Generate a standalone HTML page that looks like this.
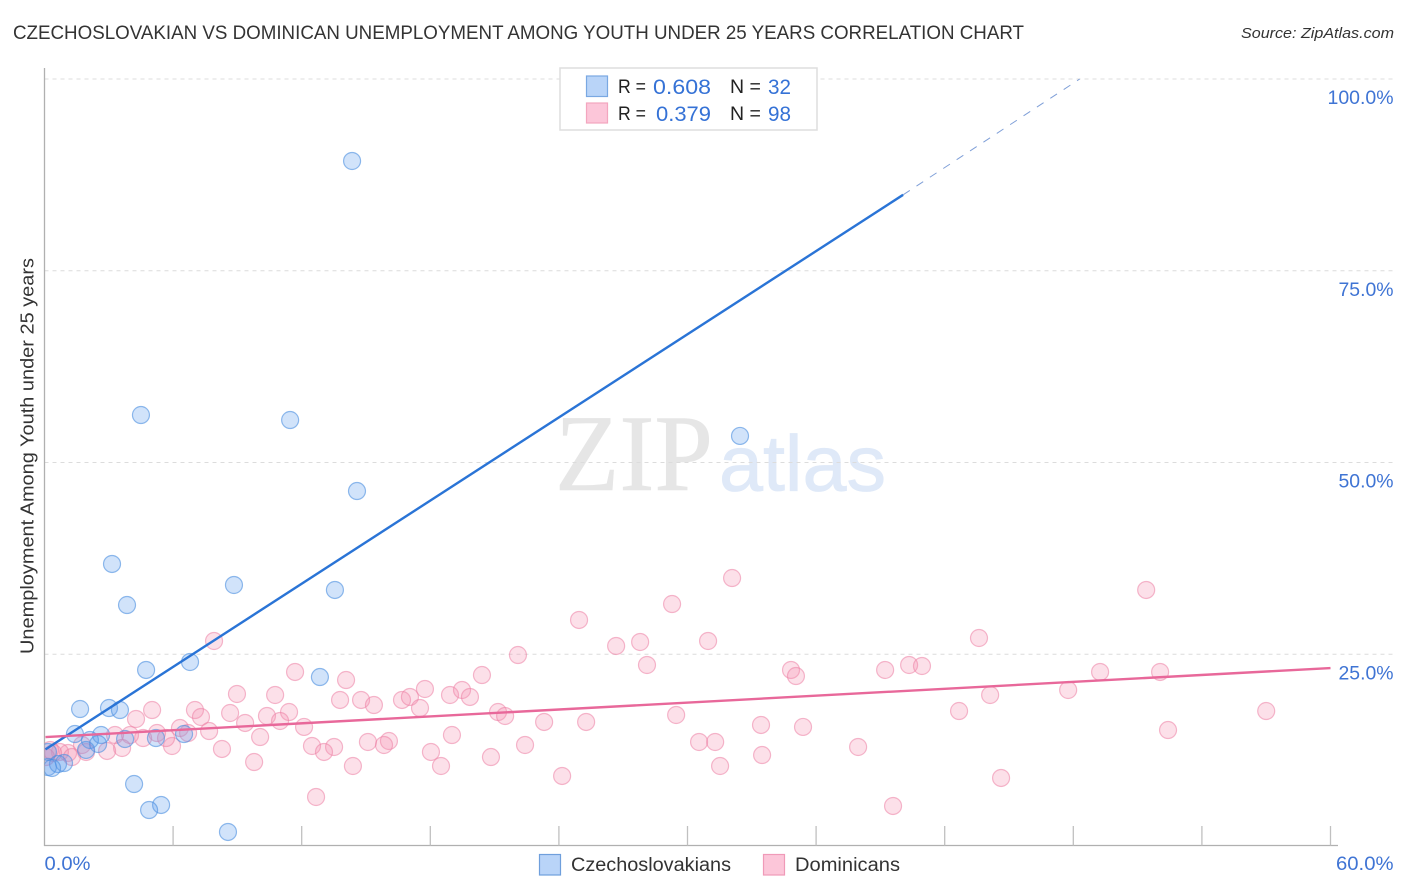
<!DOCTYPE html>
<html lang="en">
<head>
<meta charset="utf-8">
<title>Czechoslovakian vs Dominican Unemployment Correlation Chart</title>
<style>
html,body{margin:0;padding:0;background:#fff;}
svg{display:block;font-family:"Liberation Sans",sans-serif;}
</style>
</head>
<body>
<svg id="chart" width="1406" height="892" viewBox="0 0 1406 892" xmlns="http://www.w3.org/2000/svg">
  <defs>
    <clipPath id="plot-clip"><rect x="44.5" y="60" width="1350" height="785.5"/></clipPath>
  </defs>
  <rect x="0" y="0" width="1406" height="892" fill="#fff"/>
  <text x="13" y="39" font-size="19" fill="#333" textLength="1011" lengthAdjust="spacingAndGlyphs">CZECHOSLOVAKIAN VS DOMINICAN UNEMPLOYMENT AMONG YOUTH UNDER 25 YEARS CORRELATION CHART</text>
  <text x="1241" y="38" font-size="15" font-style="italic" fill="#333" textLength="153" lengthAdjust="spacingAndGlyphs">Source: ZipAtlas.com</text>
  <text transform="translate(33.5,456) rotate(-90)" text-anchor="middle" font-size="18.5" fill="#333" textLength="396" lengthAdjust="spacingAndGlyphs">Unemployment Among Youth under 25 years</text>
  <g>
    <text x="555" y="490" font-family="'Liberation Serif',serif" font-size="109" fill="#e6e6e6" stroke="#e6e6e6" stroke-width="0.6" textLength="158" lengthAdjust="spacingAndGlyphs">ZIP</text>
    <text x="719" y="490.5" font-size="79" fill="#dfe9f8" stroke="#dfe9f8" stroke-width="0.8" textLength="167" lengthAdjust="spacingAndGlyphs">atlas</text>
  </g>
  <g id="grid"></g>
  <g id="axes"></g>
  <g id="points" clip-path="url(#plot-clip)"></g>
  <g id="trends"></g>
  <g id="labels"></g>

  <g>
    <rect x="560" y="68" width="257" height="62" fill="#fff" stroke="#dedede" stroke-width="1.5"/>
    <rect x="586.5" y="76" width="21" height="20.5" fill="#b9d4f8" stroke="#7aa8e2" stroke-width="1.2"/>
    <rect x="586.5" y="103" width="21" height="20" fill="#fcc6d9" stroke="#f3a6bf" stroke-width="1.2"/>
    <text x="618" y="93" font-size="19.5" fill="#222" textLength="28" lengthAdjust="spacingAndGlyphs">R =</text>
    <text x="653" y="94" font-size="21.5" fill="#3572d6" textLength="58" lengthAdjust="spacingAndGlyphs">0.608</text>
    <text x="730" y="93" font-size="19.5" fill="#222">N =</text>
    <text x="768" y="94" font-size="21.5" fill="#3572d6" textLength="23" lengthAdjust="spacingAndGlyphs">32</text>
    <text x="618" y="120" font-size="19.5" fill="#222" textLength="28" lengthAdjust="spacingAndGlyphs">R =</text>
    <text x="656" y="121" font-size="21.5" fill="#3572d6" textLength="55" lengthAdjust="spacingAndGlyphs">0.379</text>
    <text x="730" y="120" font-size="19.5" fill="#222">N =</text>
    <text x="768" y="121" font-size="21.5" fill="#3572d6" textLength="23" lengthAdjust="spacingAndGlyphs">98</text>
  </g>

  <g>
    <rect x="539.5" y="854.5" width="21" height="20.5" fill="#b9d4f8" stroke="#6f9fdc" stroke-width="1.2"/>
    <text x="571" y="871" font-size="19" fill="#333" textLength="160" lengthAdjust="spacingAndGlyphs">Czechoslovakians</text>
    <rect x="763.5" y="854.5" width="21" height="20.5" fill="#fcc6d9" stroke="#f09ab8" stroke-width="1.2"/>
    <text x="795" y="871" font-size="19" fill="#333" textLength="105" lengthAdjust="spacingAndGlyphs">Dominicans</text>
  </g>
</svg>
<script>
// Chart data (percent values)
var blueX = [14.35,4.50,11.46,32.45,14.58,3.15,8.84,13.55,3.85,4.74,6.79,12.85,1.66,3.01,3.52,1.42,2.64,2.12,2.50,1.94,3.76,5.20,6.51,4.18,5.44,4.88,8.56,0.16,0.16,0.63,0.91,0.35];
var blueY = [89.31,56.19,55.54,53.46,46.28,36.77,34.03,33.38,31.42,22.95,23.99,22.03,17.86,17.99,17.73,14.60,14.47,13.82,13.30,12.52,13.95,14.08,14.60,8.08,5.35,4.69,1.83,12.26,10.30,10.69,10.82,10.17];
var pinkX = [7.91,11.69,14.07,20.41,22.09,8.98,10.76,13.79,14.77,15.37,16.68,17.05,17.75,17.52,18.92,19.48,19.85,7.02,7.30,8.66,9.36,10.38,11.41,10.99,12.11,7.68,10.06,8.28,12.48,13.51,13.04,15.09,16.07,15.84,19.01,18.03,9.78,14.39,18.50,20.83,22.42,12.67,21.16,21.49,32.08,29.28,24.94,26.67,27.79,30.96,28.11,34.83,35.06,23.31,25.27,29.47,24.15,30.54,31.29,33.43,35.39,33.48,31.52,51.40,43.60,39.22,40.34,40.94,49.25,52.05,47.76,44.12,57.00,42.67,52.42,37.96,44.63,39.59,4.27,5.02,6.32,6.70,5.25,5.95,4.60,3.99,3.29,3.62,2.92,1.94,1.10,0.72,0.40,5.67,1.75,1.28,0.26,0.07];
var pinkY = [26.73,22.69,21.64,22.29,24.90,19.82,19.69,19.04,19.04,18.38,19.04,19.43,20.47,17.99,19.69,20.34,19.43,17.73,16.82,17.34,16.04,16.95,17.47,16.30,15.52,14.99,14.21,12.65,13.04,12.91,12.26,13.56,13.69,13.17,14.47,12.26,10.95,10.43,10.43,11.60,13.17,6.39,17.47,16.95,34.94,31.55,29.47,26.08,26.60,26.73,23.60,22.95,22.16,16.17,16.17,17.08,9.13,13.56,13.56,15.78,15.52,11.86,10.43,33.38,27.12,22.95,23.60,23.47,22.69,22.69,20.34,19.69,17.60,17.60,15.12,12.91,8.87,5.22,16.56,17.73,15.38,14.73,14.73,13.04,14.08,14.47,14.47,12.78,12.39,12.26,12.13,12.26,12.13,14.08,13.17,11.60,12.52,11.60];
var blueTrendX = [0, 40.06];
var blueTrendY = [12.5, 84.9];
var blueTrendDashX = [40.06, 48.3];
var blueTrendDashY = [84.9, 100];
var pinkTrendX = [0, 60];
var pinkTrendY = [14.2, 23.2];
var yTicks = [25, 50, 75, 100];
var yTickLabels = ["25.0%", "50.0%", "75.0%", "100.0%"];
var xTicks = [0, 6, 12, 18, 24, 30, 36, 42, 48, 54, 60];
var xEndTicks = [0, 60];
var xEndLabels = ["0.0%", "60.0%"];

var NS = "http://www.w3.org/2000/svg";
function xScale(v) { return 44.5 + v * (1330.5 - 44.5) / 60; }
function yScale(v) { return 846 - v * (846 - 79) / 100; }
function make(tag, attrs, parent) {
  var el = document.createElementNS(NS, tag);
  for (var k in attrs) el.setAttribute(k, attrs[k]);
  parent.appendChild(el);
  return el;
}

var grid = document.getElementById("grid");
var axes = document.getElementById("axes");
var points = document.getElementById("points");
var trends = document.getElementById("trends");
var labels = document.getElementById("labels");

yTicks.forEach(function (t, i) {
  var line = make("line", {x1: 44.5, x2: 1394, y1: yScale(t), y2: yScale(t), stroke: "#dcdcdc", "stroke-width": 1, "stroke-dasharray": "4 4"}, grid);
  
  
  var label = make("text", {x: 1393.5, y: yScale(t) + 25, "text-anchor": "end", "font-size": 19, fill: "#3f74d4", textLength: yTickLabels[i].length * 11, lengthAdjust: "spacingAndGlyphs"}, labels);
  
  
  label.textContent = yTickLabels[i];
});

var yAxis = make("line", {x1: 44.5, x2: 44.5, y1: 68, y2: 846, stroke: "#b0b0b0", "stroke-width": 1.3}, axes);


var xAxis = make("line", {x1: 44, x2: 1338, y1: 845.5, y2: 845.5, stroke: "#b0b0b0", "stroke-width": 1.3}, axes);



xTicks.forEach(function (t) {
  if (t === 0) return;
  var tick = make("line", {x1: xScale(t), x2: xScale(t), y1: 826, y2: 845.5, stroke: "#c0c0c0", "stroke-width": 1.3}, axes);
  
  
});

xEndTicks.forEach(function (t, i) {
  var label = make("text", {x: t === 0 ? xScale(t) : 1393.5, y: 870, "text-anchor": t === 0 ? "start" : "end", "font-size": 19, fill: "#3f74d4", textLength: xEndLabels[i].length * 11.5, lengthAdjust: "spacingAndGlyphs"}, labels);
  
  
  label.textContent = xEndLabels[i];
});

pinkX.forEach(function (v, i) {
  var c = make("circle", {cx: xScale(v), cy: yScale(pinkY[i]), r: 8.5, fill: "#f48fb1", "fill-opacity": 0.28, stroke: "#ec7fa4", "stroke-opacity": 0.55, "stroke-width": 1.2}, points);
  
  
});
blueX.forEach(function (v, i) {
  var c = make("circle", {cx: xScale(v), cy: yScale(blueY[i]), r: 8.5, fill: "#5a9cec", "fill-opacity": 0.28, stroke: "#4a8ee0", "stroke-opacity": 0.6, "stroke-width": 1.2}, points);
  
  
});

var dash = make("line", {x1: xScale(blueTrendDashX[0]), y1: yScale(blueTrendDashY[0]), x2: xScale(blueTrendDashX[1]), y2: yScale(blueTrendDashY[1]), stroke: "#7f9fd8", "stroke-width": 1, "stroke-dasharray": "8 8"}, trends);


var blueLine = make("line", {x1: xScale(blueTrendX[0]) + 1, y1: yScale(blueTrendY[0]) - 0.7, x2: xScale(blueTrendX[1]), y2: yScale(blueTrendY[1]), stroke: "#2a74d6", "stroke-width": 2.4}, trends);


var pinkLine = make("line", {x1: xScale(pinkTrendX[0]) + 1, y1: yScale(pinkTrendY[0]), x2: xScale(pinkTrendX[1]), y2: yScale(pinkTrendY[1]), stroke: "#e8689a", "stroke-width": 2.4}, trends);


</script>
</body>
</html>
